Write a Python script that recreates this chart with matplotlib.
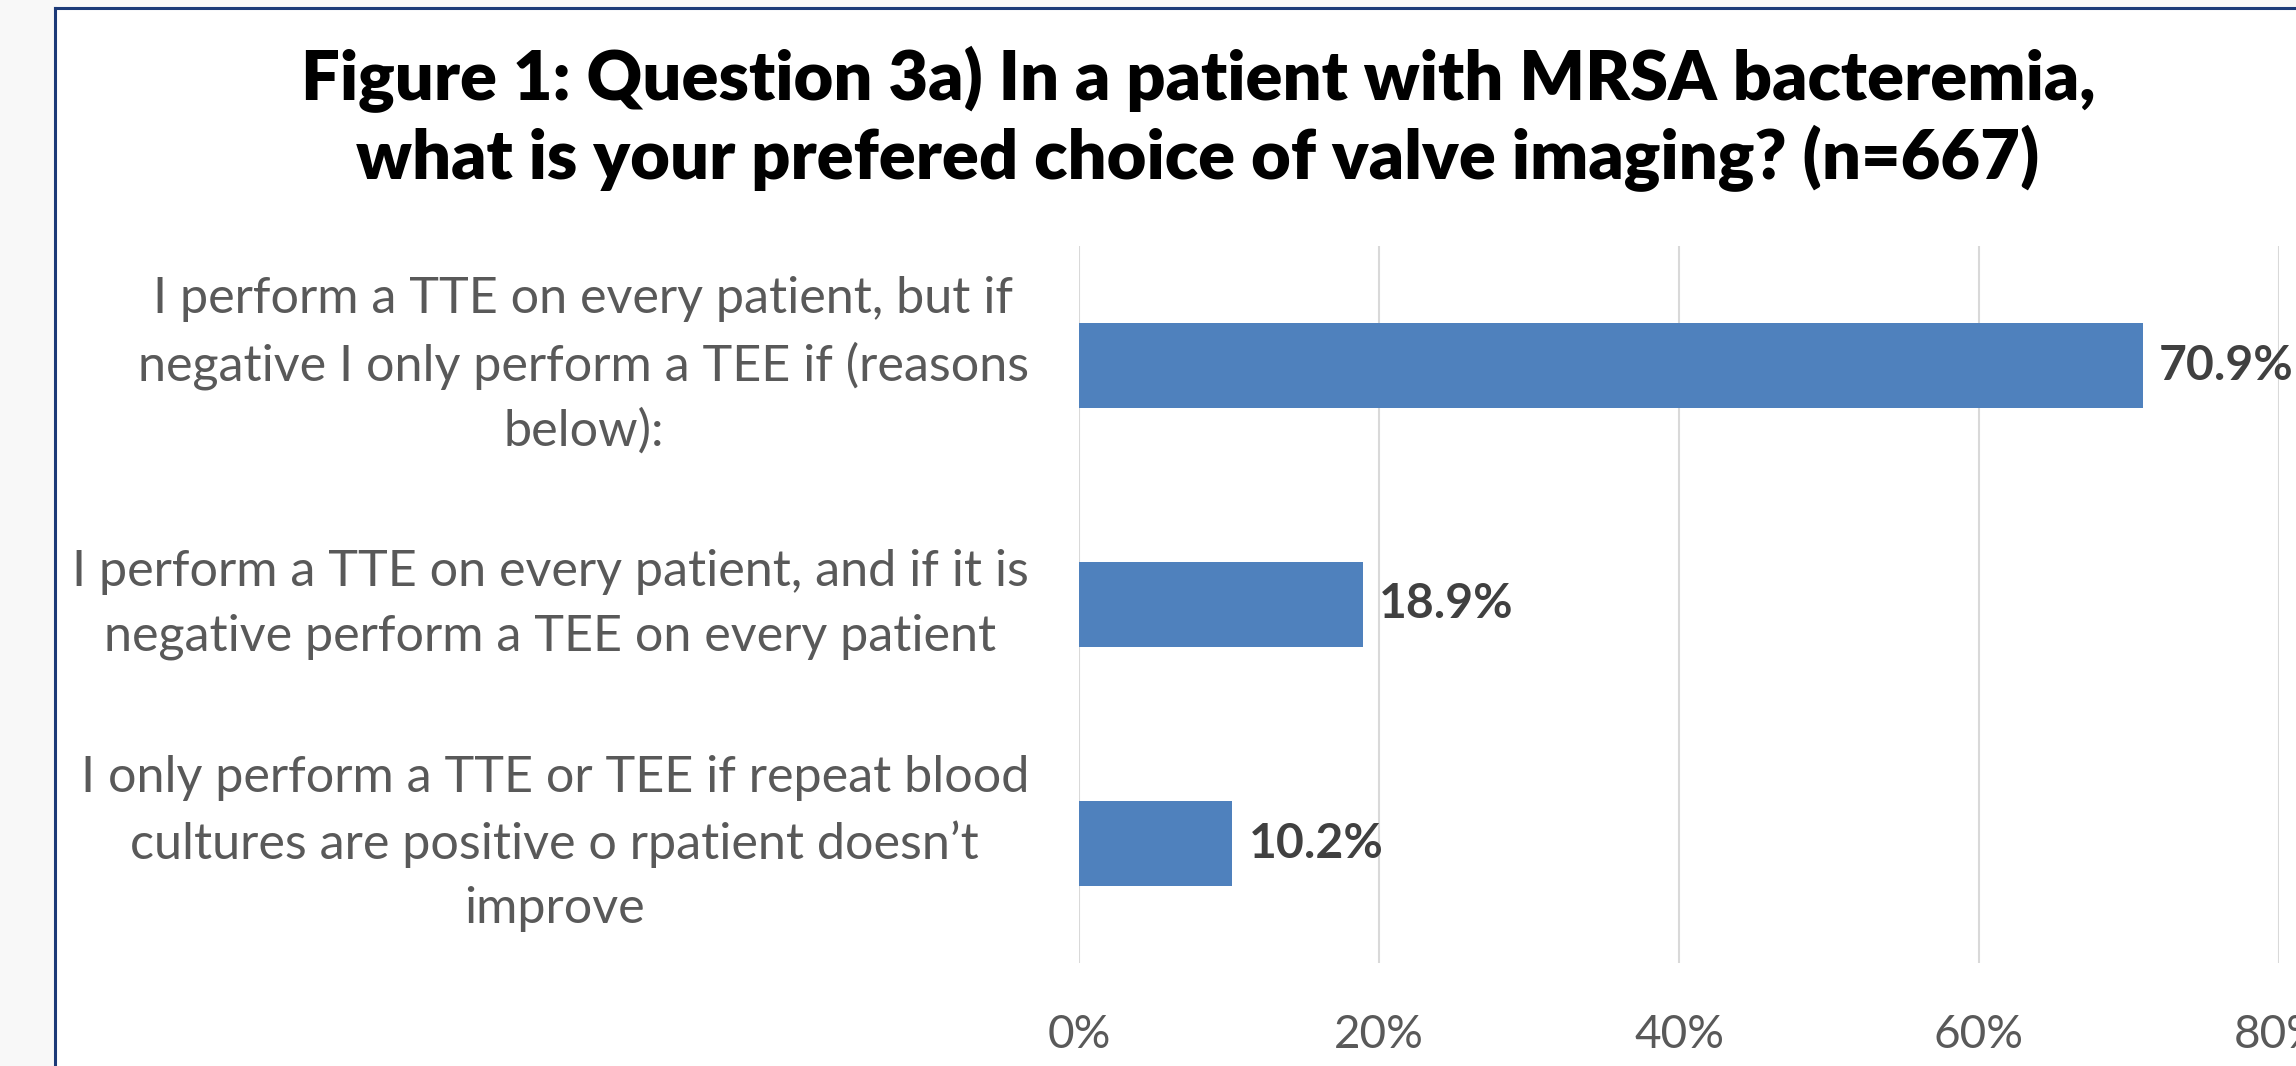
import matplotlib
matplotlib.use("Agg")
import matplotlib.pyplot as plt
from matplotlib.lines import Line2D
from matplotlib.patches import Rectangle

categories = [
    "I perform a TTE on every patient, but if\nnegative I only perform a TEE if (reasons\nbelow):",
    "I perform a TTE on every patient, and if it is\nnegative perform a TEE on every patient",
    "I only perform a TTE or TEE if repeat blood\ncultures are positive o rpatient doesn\u2019t\nimprove",
]
values = [0.709, 0.189, 0.102]
value_labels = ["70.9%", "18.9%", "10.2%"]
xticks = [0.0, 0.2, 0.4, 0.6, 0.8]
xtick_labels = ["0%", "20%", "40%", "60%", "80%"]
title_lines = [
    "Figure 1: Question 3a) In a patient with MRSA bacteremia,",
    "what is your prefered choice of valve imaging? (n=667)",
]

W, H = 2296, 1066
FONT = ["Lato", "DejaVu Sans"]
plt.rcParams["font.family"] = FONT

fig = plt.figure(figsize=(W / 100, H / 100), dpi=100)
fig.patch.set_facecolor("#f8f8f8")

# chart area (white box with navy left/top border)
fig.patches.append(Rectangle((55 / W, 0), 1 - 55 / W, 1 - 8 / H, transform=fig.transFigure,
                             facecolor="white", edgecolor="none", zorder=-5))
fig.lines.append(Line2D([55 / W, 55 / W], [0, 1 - 8 / H], transform=fig.transFigure,
                        color="#1c3a78", lw=2.2, zorder=-4))
fig.lines.append(Line2D([55 / W, 1], [1 - 8 / H, 1 - 8 / H], transform=fig.transFigure,
                        color="#1c3a78", lw=2.2, zorder=-4))

ax = fig.add_axes([1079 / W, 1 - 963 / H, 1200 / W, 717 / H])
ax.set_zorder(2)
ax.patch.set_alpha(0)

y = list(range(len(categories)))
ax.barh(y, values, height=0.355, color="#4f81bd", zorder=3)
ax.set_xlim(0, 0.8)
ax.set_ylim(2.5, -0.5)
ax.set_xticks(xticks)
ax.set_xticklabels(xtick_labels)
ax.set_yticks(y)
ax.set_yticklabels(categories)
for s in ax.spines.values():
    s.set_visible(False)
ax.grid(axis="x", color="#d9d9d9", lw=1.5, zorder=0)
ax.set_axisbelow(True)
ax.tick_params(axis="both", length=0, colors="#595959")
ax.tick_params(axis="x", pad=37)
ax.tick_params(axis="y", pad=36)

renderer = fig.canvas.get_renderer()


def measure(text, size, weight="normal", ls=None):
    t = fig.text(0, 0, text, fontsize=size, fontweight=weight)
    if ls is not None:
        t.set_linespacing(ls)
    bb = t.get_window_extent(renderer)
    t.remove()
    return bb


def fit_size(text, target_px, weight="normal", base=30):
    return base * target_px / measure(text, base, weight).width


cat_size = 0.5 * (fit_size("negative I only perform a TEE if (reasons", 912)
                  + fit_size("I perform a TTE on every patient, and if it is", 933))
# line spacing: make the distance between baselines 69 px
h1 = measure("Ag", cat_size, ls=1.0).height
h2 = measure("Ag\nAg", cat_size, ls=1.0).height
cat_ls = 69 / (h2 - h1)

tick_size = fit_size("20%", 90)
lab_size = fit_size("70.9%", 134, weight="bold")
title_size = fit_size(title_lines[0], 1791, weight="heavy")

for lbl in ax.get_yticklabels():
    lbl.set_fontsize(cat_size)
    lbl.set_multialignment("center")
    lbl.set_linespacing(cat_ls)
    lbl.set_verticalalignment("center")
for lbl in ax.get_xticklabels():
    lbl.set_fontsize(tick_size)

for yi, v, s in zip(y, values, value_labels):
    ax.annotate(s, (v, yi), xytext=(12, 0), textcoords="offset points",
                ha="left", va="center", fontsize=lab_size, fontweight="bold",
                color="#404040", annotation_clip=False)

fig.text(1198 / W, 1 - 100 / H, title_lines[0], ha="center", va="baseline",
         fontsize=title_size, fontweight="heavy", color="black")
fig.text(1198 / W, 1 - 179 / H, title_lines[1], ha="center", va="baseline",
         fontsize=title_size, fontweight="heavy", color="black")

fig.savefig("out.png", dpi=100, facecolor=fig.get_facecolor())
